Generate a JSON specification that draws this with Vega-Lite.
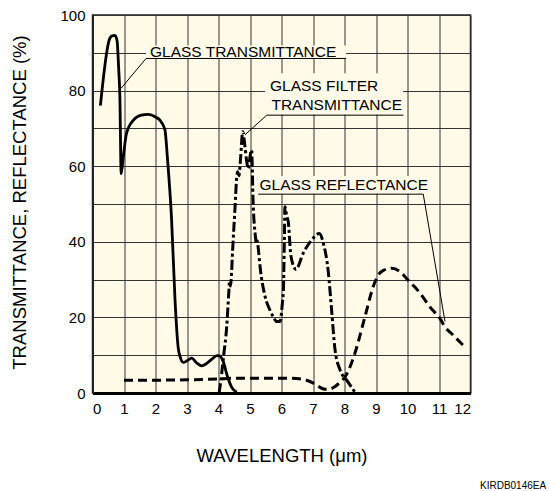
{
  "$schema": "https://vega.github.io/schema/vega-lite/v6.json",
  "autosize": {"type": "none"},
  "padding": {"left": 92.5, "top": 15, "right": 79.5, "bottom": 98},
  "width": 378,
  "height": 378,
  "background": "white",
  "title": {"text": "KIRDB0146EA", "orient": "bottom", "anchor": "end", "fontSize": 10, "font": "Liberation Sans", "fontWeight": "normal", "color": "#000", "dx": 75, "offset": 16},
  "config": {
    "view": {"fill": "#FFFBE8", "stroke": "#222", "strokeWidth": 1.5},
    "font": "Liberation Sans"
  },
  "datasets": {
    "trans": [
      {"x": 0.25, "y": 76}, {"x": 0.53, "y": 93.4}, {"x": 0.62, "y": 94.5}, {"x": 0.71, "y": 94.6},
      {"x": 0.78, "y": 93.2}, {"x": 0.83, "y": 86}, {"x": 0.87, "y": 78}, {"x": 0.91, "y": 58},
      {"x": 0.97, "y": 62}, {"x": 1.08, "y": 68.7}, {"x": 1.3, "y": 72.2}, {"x": 1.55, "y": 73.5},
      {"x": 1.77, "y": 73.7}, {"x": 2.0, "y": 73}, {"x": 2.14, "y": 72.2}, {"x": 2.3, "y": 69.6},
      {"x": 2.38, "y": 62}, {"x": 2.51, "y": 46}, {"x": 2.62, "y": 24.6}, {"x": 2.72, "y": 12},
      {"x": 2.78, "y": 9.6}, {"x": 2.88, "y": 8.1}, {"x": 3.0, "y": 8.5}, {"x": 3.15, "y": 9.2},
      {"x": 3.3, "y": 8}, {"x": 3.47, "y": 7.2}, {"x": 3.62, "y": 7.8}, {"x": 3.78, "y": 8.9},
      {"x": 3.95, "y": 9.9}, {"x": 4.03, "y": 9.8}, {"x": 4.15, "y": 8.3}, {"x": 4.28, "y": 4.5},
      {"x": 4.42, "y": 1.5}, {"x": 4.58, "y": 0.2}
    ],
    "filter": [
      {"x": 4.02, "y": 0}, {"x": 4.1, "y": 5}, {"x": 4.15, "y": 9}, {"x": 4.26, "y": 17.5},
      {"x": 4.33, "y": 27}, {"x": 4.35, "y": 29.5}, {"x": 4.38, "y": 28.3}, {"x": 4.4, "y": 29.8},
      {"x": 4.45, "y": 38}, {"x": 4.52, "y": 48.4}, {"x": 4.58, "y": 57.2}, {"x": 4.61, "y": 58.5},
      {"x": 4.65, "y": 57.5}, {"x": 4.7, "y": 62}, {"x": 4.77, "y": 69.1}, {"x": 4.84, "y": 65.2},
      {"x": 4.9, "y": 61}, {"x": 4.95, "y": 59.4}, {"x": 5.0, "y": 62.5}, {"x": 5.05, "y": 64.3},
      {"x": 5.1, "y": 50.2}, {"x": 5.17, "y": 41.5}, {"x": 5.2, "y": 39.5}, {"x": 5.23, "y": 40.3},
      {"x": 5.26, "y": 38.5}, {"x": 5.32, "y": 33.4}, {"x": 5.48, "y": 25.5}, {"x": 5.63, "y": 22},
      {"x": 5.75, "y": 20}, {"x": 5.85, "y": 18.9}, {"x": 5.95, "y": 18.9}, {"x": 6.03, "y": 24},
      {"x": 6.06, "y": 27.2}, {"x": 6.09, "y": 40}, {"x": 6.11, "y": 49.3}, {"x": 6.16, "y": 47},
      {"x": 6.22, "y": 44.9}, {"x": 6.29, "y": 36.9}, {"x": 6.33, "y": 35}, {"x": 6.46, "y": 32.7},
      {"x": 6.69, "y": 37}, {"x": 6.96, "y": 40.5}, {"x": 7.2, "y": 42.2}, {"x": 7.33, "y": 39.6},
      {"x": 7.49, "y": 31.7}, {"x": 7.59, "y": 22}, {"x": 7.7, "y": 11.4}, {"x": 7.86, "y": 6.1},
      {"x": 8.07, "y": 3.4}, {"x": 8.2, "y": 1.8}, {"x": 8.33, "y": 0.2}
    ],
    "refl": [
      {"x": 1.0, "y": 3.4}, {"x": 2.0, "y": 3.4}, {"x": 3.0, "y": 3.5}, {"x": 4.0, "y": 3.7},
      {"x": 4.5, "y": 3.9}, {"x": 5.5, "y": 3.9}, {"x": 6.27, "y": 3.9}, {"x": 6.69, "y": 3.6},
      {"x": 7.01, "y": 2.6}, {"x": 7.2, "y": 1.6}, {"x": 7.38, "y": 1}, {"x": 7.55, "y": 1.1},
      {"x": 7.7, "y": 1.7}, {"x": 7.85, "y": 2.8}, {"x": 8.02, "y": 4.3}, {"x": 8.18, "y": 7},
      {"x": 8.33, "y": 10.5}, {"x": 8.65, "y": 20.2}, {"x": 8.91, "y": 28.1}, {"x": 9.07, "y": 31.2},
      {"x": 9.25, "y": 32.5}, {"x": 9.5, "y": 33}, {"x": 9.76, "y": 32.1}, {"x": 9.97, "y": 30.3},
      {"x": 10.4, "y": 26.4}, {"x": 10.71, "y": 22.8}, {"x": 11.03, "y": 19.7}, {"x": 11.19, "y": 17.5},
      {"x": 11.45, "y": 15.3}, {"x": 11.83, "y": 12.1}
    ],
    "boxes": [
      {"x": 1.7, "x2": 8.05, "y": 88.6, "y2": 91.9},
      {"x": 5.48, "x2": 9.86, "y": 73.6, "y2": 84.6},
      {"x": 5.26, "x2": 10.5, "y": 52.7, "y2": 57.4}
    ],
    "leaders": [
      {"g": "a", "o": 1, "x": 0.905, "y": 80.6}, {"g": "a", "o": 2, "x": 1.7, "y": 88.5}, {"g": "a", "o": 3, "x": 8.05, "y": 88.5},
      {"g": "b", "o": 1, "x": 4.84, "y": 68.3}, {"g": "b", "o": 2, "x": 5.53, "y": 73.5}, {"g": "b", "o": 3, "x": 9.87, "y": 73.5},
      {"g": "c", "o": 1, "x": 5.26, "y": 52.6}, {"g": "c", "o": 2, "x": 10.5, "y": 52.6}, {"g": "c", "o": 3, "x": 11.19, "y": 18.9}
    ],
    "labels": [
      {"x": 1.825, "y": 88.9, "t": "GLASS TRANSMITTANCE"},
      {"x": 5.635, "y": 79.9, "t": "GLASS FILTER"},
      {"x": 5.68, "y": 74.9, "t": "TRANSMITTANCE"},
      {"x": 5.3, "y": 53.8, "t": "GLASS REFLECTANCE"}
    ]
  },
  "encoding": {
    "x": {
      "field": "x", "type": "quantitative",
      "scale": {"domain": [0, 12], "nice": false, "zero": false},
      "axis": {
        "values": [0,1,2,3,4,5,6,7,8,9,10,11,12],
        "title": "WAVELENGTH (μm)",
        "grid": true, "gridColor": "#333", "gridWidth": 1, "gridOpacity": 1,
        "ticks": false, "domain": true, "domainColor": "#000", "domainWidth": 3,
        "labelFontSize": 15, "labelColor": "#000", "labelPadding": 8, "labelFont": "Liberation Sans",
        "titleFontSize": 18.5, "titleFontWeight": "normal", "titleColor": "#000", "titleFont": "Liberation Sans",
        "titleX": 189, "titleY": 68.5, "titleBaseline": "alphabetic", "titleAnchor": null
      }
    },
    "y": {
      "field": "y", "type": "quantitative",
      "scale": {"domain": [0, 100], "nice": false, "zero": false},
      "axis": {
        "values": [0,10,20,30,40,50,60,70,80,90,100],
        "labelExpr": "datum.value % 20 === 0 ? datum.label : ''",
        "title": "TRANSMITTANCE, REFLECTANCE (%)",
        "grid": true, "gridColor": "#333", "gridWidth": 1, "gridOpacity": 1,
        "ticks": false, "domain": true, "domainColor": "#222", "domainWidth": 2,
        "labelFontSize": 15, "labelColor": "#000", "labelPadding": 7.5, "labelFont": "Liberation Sans",
        "titleFontSize": 18.5, "titleFontWeight": "normal", "titleColor": "#000", "titleFont": "Liberation Sans",
        "titleX": -67, "titleY": 187, "titleBaseline": "alphabetic", "titleAngle": 270
      }
    }
  },
  "layer": [
    {
      "data": {"name": "boxes"},
      "mark": {"type": "rect", "fill": "#FFFBE8", "stroke": null},
      "encoding": {"x2": {"field": "x2"}, "y2": {"field": "y2"}}
    },
    {
      "data": {"name": "leaders"},
      "mark": {"type": "line", "stroke": "#000", "strokeWidth": 1, "interpolate": "linear"},
      "encoding": {"detail": {"field": "g"}, "order": {"field": "o", "type": "quantitative"}}
    },
    {
      "data": {"name": "labels"},
      "mark": {"type": "text", "align": "left", "baseline": "alphabetic", "fontSize": 15.5, "font": "Liberation Sans", "color": "#000"},
      "encoding": {"text": {"field": "t"}}
    },
    {
      "data": {"name": "trans"},
      "mark": {"type": "line", "stroke": "#000", "strokeWidth": 2.8, "interpolate": "monotone", "strokeJoin": "round", "strokeCap": "butt"},
      "encoding": {}
    },
    {
      "data": {"name": "filter"},
      "mark": {"type": "line", "stroke": "#000", "strokeWidth": 3, "interpolate": "monotone", "strokeDash": [10, 3, 3, 3]},
      "encoding": {}
    },
    {
      "data": {"name": "refl"},
      "mark": {"type": "line", "stroke": "#000", "strokeWidth": 3, "interpolate": "monotone", "strokeDash": [9, 5]},
      "encoding": {}
    }
  ]
}
